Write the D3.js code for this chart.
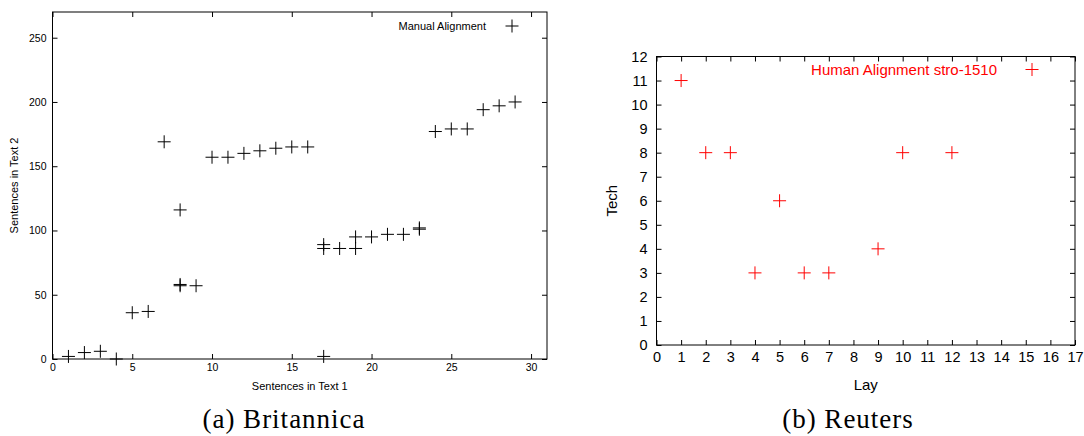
<!DOCTYPE html>
<html lang="en">
<head>
<meta charset="UTF-8">
<title>Alignment plots</title>
<script src="https://d3js.org/d3.v7.min.js"></script>
<style>
  body { margin: 0; background: #fff; }
  svg { display: block; }
  .sans { font-family: "Liberation Sans", Arial, sans-serif; }
  .caption { font-family: "Liberation Serif", "DejaVu Serif", serif; font-size: 27px; letter-spacing: 1px; }
</style>
</head>
<body>
<svg id="canvas" width="1084" height="436"></svg>
<script>
// (a) Britannica : sentence pairs from the manual alignment
const britX = [1, 2, 3, 4, 5, 6, 7, 8, 8, 8, 9, 10, 11, 12, 13, 14, 15, 16,
               17, 17, 17, 18, 19, 19, 20, 21, 22, 23, 23, 24, 25, 26, 27, 28, 29];
const britY = [2, 5, 6, 0, 36, 37, 169, 116, 57, 58, 57, 157, 157, 160, 162, 164, 165, 165,
               2, 86, 89, 86, 86, 95, 95, 97, 97, 101, 102, 177, 179, 179, 194, 197, 200];
const britXTicks = [0, 5, 10, 15, 20, 25, 30];
const britYTicks = [0, 50, 100, 150, 200, 250];

// (b) Reuters : human alignment stro-1510
const reutX = [1, 2, 3, 4, 5, 6, 7, 9, 10, 12];
const reutY = [11, 8, 8, 3, 6, 3, 3, 4, 8, 8];
const reutXTicks = [0, 1, 2, 3, 4, 5, 6, 7, 8, 9, 10, 11, 12, 13, 14, 15, 16, 17];
const reutYTicks = [0, 1, 2, 3, 4, 5, 6, 7, 8, 9, 10, 11, 12];

const svg = d3.select("#canvas");
const plus = s => "M" + (-s) + ",0H" + s + "M0," + (-s) + "V" + s;

function panel(o) {
  const x = d3.scaleLinear().domain(o.xDomain).range([o.left, o.right]);
  const y = d3.scaleLinear().domain(o.yDomain).range([o.bottom, o.top]);
  const g = svg.append("g").attr("class", "sans");

  // ticks on all four sides, pointing inward (gnuplot style)
  const bottom = g.append("g").attr("transform", "translate(0," + o.bottom + ")")
    .call(d3.axisBottom(x).tickValues(o.xTicks).tickSizeInner(-o.tick).tickSizeOuter(0).tickPadding(o.xPad));
  const left = g.append("g").attr("transform", "translate(" + o.left + ",0)")
    .call(d3.axisLeft(y).tickValues(o.yTicks).tickSizeInner(-o.tick).tickSizeOuter(0).tickPadding(o.yPad));
  g.append("g").attr("transform", "translate(0," + o.top + ")")
    .call(d3.axisTop(x).tickValues(o.xTicks).tickSizeInner(-o.tick).tickSizeOuter(0).tickFormat(""));
  g.append("g").attr("transform", "translate(" + o.right + ",0)")
    .call(d3.axisRight(y).tickValues(o.yTicks).tickSizeInner(-o.tick).tickSizeOuter(0).tickFormat(""));

  g.selectAll(".domain").remove();
  g.selectAll(".tick line").attr("stroke", "#000");
  [bottom, left].forEach(a => a.selectAll("text")
    .attr("fill", "#000").style("font-size", o.tickFont + "px")
    .style("font-family", "'Liberation Sans', Arial, sans-serif"));

  g.append("rect")
    .attr("x", o.left).attr("y", o.top)
    .attr("width", o.right - o.left).attr("height", o.bottom - o.top)
    .attr("fill", "none").attr("stroke", "#000").attr("stroke-width", 1);

  // axis titles
  g.append("text")
    .attr("x", (o.left + o.right) / 2).attr("y", o.xLabelY)
    .attr("text-anchor", "middle").style("font-size", o.labelFont + "px")
    .text(o.xLabel);
  g.append("text")
    .attr("transform", "translate(" + o.yLabelX + "," + (o.top + o.bottom) / 2 + ") rotate(-90)")
    .attr("text-anchor", "middle").style("font-size", o.labelFont + "px")
    .text(o.yLabel);

  // points
  g.append("g").selectAll("path")
    .data(o.xs.map((d, i) => [d, o.ys[i]]))
    .join("path")
    .attr("d", plus(o.mark))
    .attr("transform", d => "translate(" + x(d[0]) + "," + y(d[1]) + ")")
    .attr("fill", "none").attr("stroke", o.color).attr("stroke-width", 1);

  // key
  g.append("text")
    .attr("x", o.keyTextX).attr("y", o.keyY)
    .attr("dy", "0.35em").attr("text-anchor", "end")
    .attr("fill", o.color).style("font-size", o.keyFont + "px")
    .text(o.key);
  g.append("path")
    .attr("d", plus(o.mark))
    .attr("transform", "translate(" + o.keyMarkX + "," + o.keyY + ")")
    .attr("fill", "none").attr("stroke", o.color).attr("stroke-width", 1);

  // sub-caption
  svg.append("text").attr("class", "caption")
    .attr("x", o.capX).attr("y", 428)
    .attr("text-anchor", "middle")
    .text(o.caption);
}

panel({
  xs: britX, ys: britY, xTicks: britXTicks, yTicks: britYTicks,
  xDomain: [0, 31], yDomain: [0, 270],
  left: 52.5, right: 547, top: 12, bottom: 359,
  tick: 5, xPad: 5, yPad: 6, tickFont: 10.5, labelFont: 11, keyFont: 11,
  xLabel: "Sentences in Text 1", xLabelY: 390,
  yLabel: "Sentences in Text 2", yLabelX: 18,
  color: "#000", mark: 6.5,
  key: "Manual Alignment", keyTextX: 486, keyMarkX: 512, keyY: 26,
  caption: "(a) Britannica", capX: 284
});

panel({
  xs: reutX, ys: reutY, xTicks: reutXTicks, yTicks: reutYTicks,
  xDomain: [0, 17], yDomain: [0, 12],
  left: 656.5, right: 1075, top: 56.5, bottom: 345,
  tick: 5, xPad: 7, yPad: 9, tickFont: 14.5, labelFont: 15, keyFont: 15,
  xLabel: "Lay", xLabelY: 390,
  yLabel: "Tech", yLabelX: 617,
  color: "#ff0000", mark: 6.5,
  key: "Human Alignment stro-1510", keyTextX: 997, keyMarkX: 1032, keyY: 69.5,
  caption: "(b) Reuters", capX: 848
});
</script>
</body>
</html>
